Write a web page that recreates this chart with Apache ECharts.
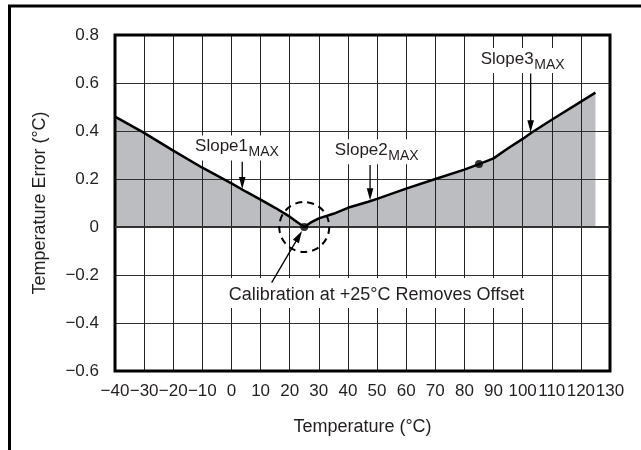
<!DOCTYPE html>
<html><head><meta charset="utf-8">
<script src="https://cdn.jsdelivr.net/npm/echarts@6/dist/echarts.min.js"></script>
<style>html,body{margin:0;padding:0;background:#fff}#c{width:641px;height:450px}</style>
</head><body><div id="c"></div>
<script>
// ---- data ----
const temperature = [-40, -30, -20, -10, 0, 5, 10, 15, 20, 22.5, 25, 27, 30, 35, 40, 47, 50, 60, 70, 80, 85, 90, 95, 100, 103, 110, 125];
const tempError   = [0.46, 0.392, 0.318, 0.247, 0.182, 0.147, 0.114, 0.08, 0.043, 0.021, 0, 0.017, 0.036, 0.055, 0.08, 0.105, 0.117, 0.16, 0.2, 0.239, 0.262, 0.286, 0.328, 0.367, 0.393, 0.447, 0.56];
const markedTemps  = [25, 85];
const markedErrors = [0, 0.262];
const xTickMin = -40, xTickMax = 130, xTickStep = 10;
const yTickMin = -0.6, yTickMax = 0.8, yTickStep = 0.2;
const xTitle = 'Temperature (°C)';
const yTitle = 'Temperature Error (°C)';
// annotations (data coordinates)
const slopeLabels = [
  {main: 'Slope1', sub: 'MAX', at: [-12.5, 0.335], arrowFrom: [3.7, 0.272], arrowTo: [3.7, 0.158]},
  {main: 'Slope2', sub: 'MAX', at: [35.5, 0.32], arrowFrom: [47.6, 0.258], arrowTo: [47.6, 0.111]},
  {main: 'Slope3', sub: 'MAX', at: [85.6, 0.70], arrowFrom: [102.75, 0.64], arrowTo: [102.75, 0.395]}
];
const calibText = 'Calibration at +25°C Removes Offset';
const calibTextAt = [49.8, -0.283];
const calibArrowFrom = [13.8, -0.232];
const calibArrowTo = [24.2, -0.017];
const calibCircleAt = [25, 0];

const pairs = temperature.map((t, i) => [t, tempError[i]]);
const dots = markedTemps.map((t, i) => [t, markedErrors[i]]);
const FONT = 'Liberation Sans, Arial, Helvetica, sans-serif';
const TXT = '#231f20';
const minus = s => s.replace('-', '\u2212');

const chart = echarts.init(document.getElementById('c'), null, {renderer: 'canvas'});
chart.setOption({
  animation: false,
  grid: {left: 115, top: 35, right: 31, bottom: 79, show: true, borderColor: '#000', borderWidth: 3, backgroundColor: 'transparent', z: 4},
  xAxis: {
    type: 'value', min: xTickMin, max: xTickMax, interval: xTickStep, z: 3,
    axisLine: {show: false}, axisTick: {show: false},
    axisLabel: {margin: 12, fontSize: 17, color: TXT, fontFamily: FONT, formatter: v => minus(String(Math.round(v)))},
    splitLine: {show: true, lineStyle: {color: '#222', width: 1}},
    name: xTitle, nameLocation: 'middle', nameGap: 47,
    nameTextStyle: {fontSize: 18, color: TXT, fontFamily: FONT}
  },
  yAxis: {
    type: 'value', min: yTickMin, max: yTickMax, interval: yTickStep, z: 3,
    axisLine: {show: false}, axisTick: {show: false},
    axisLabel: {margin: 16, fontSize: 17, color: TXT, fontFamily: FONT, formatter: v => minus(String(Math.round(v * 10) / 10))},
    splitLine: {show: true, lineStyle: {color: '#333', width: 1}},
    name: yTitle, nameLocation: 'middle', nameGap: 66,
    nameTextStyle: {fontSize: 18, color: TXT, fontFamily: FONT}
  },
  series: [
    {type: 'line', data: pairs, symbol: 'none', silent: true, z: 1,
     lineStyle: {opacity: 0}, areaStyle: {color: '#bcbdc0', opacity: 1}},
    {type: 'line', data: pairs, symbol: 'none', silent: true, z: 5,
     lineStyle: {color: '#000', width: 2.5},
     markLine: {silent: true, symbol: 'none', label: {show: false}, animation: false,
       lineStyle: {color: '#333', width: 2, type: 'solid'}, data: [{yAxis: 0}]}},
    {type: 'scatter', data: dots, symbolSize: 8, itemStyle: {color: '#000'}, z: 6, silent: true}
  ]
});

const px = p => chart.convertToPixel({gridIndex: 0}, p);
function arrow(a, b, head, half) {
  const p0 = px(a), p1 = px(b);
  const dx = p1[0] - p0[0], dy = p1[1] - p0[1], L = Math.hypot(dx, dy);
  const ux = dx / L, uy = dy / L;
  const bx = p1[0] - ux * head, by = p1[1] - uy * head;
  return [
    {type: 'line', z: 12, silent: true, shape: {x1: p0[0], y1: p0[1], x2: bx + ux, y2: by + uy}, style: {stroke: '#000', lineWidth: 1.3}},
    {type: 'polygon', z: 12, silent: true, shape: {points: [[p1[0], p1[1]], [bx - uy * half, by + ux * half], [bx + uy * half, by - ux * half]]}, style: {fill: '#000'}}
  ];
}
const g = [];
// outer frame
g.push({type: 'rect', z: 20, silent: true, shape: {x: 9.5, y: 6, width: 800, height: 600}, style: {fill: 'none', stroke: '#000', lineWidth: 3}});
slopeLabels.forEach(s => {
  const p = px(s.at);
  g.push({type: 'rect', z: 4, silent: true, shape: {x: p[0] - 3, y: p[1] - 11, width: 94, height: 25}, style: {fill: '#fff'}});
  g.push({type: 'text', z: 11, silent: true, x: p[0], y: p[1], style: {text: s.main, fontSize: 17, fontFamily: FONT, fill: TXT, align: 'left', verticalAlign: 'middle'}});
  g.push({type: 'text', z: 11, silent: true, x: p[0] + 53.5, y: p[1] + 6, style: {text: s.sub, fontSize: 14, fontFamily: FONT, fill: TXT, align: 'left', verticalAlign: 'middle'}});
  arrow(s.arrowFrom, s.arrowTo, 12, 3.3).forEach(e => g.push(e));
});
const cp = px(calibTextAt);
g.push({type: 'rect', z: 4, silent: true, shape: {x: cp[0] - 158, y: cp[1] - 17, width: 316, height: 30}, style: {fill: '#fff'}});
g.push({type: 'text', z: 11, silent: true, x: cp[0], y: cp[1], style: {text: calibText, fontSize: 18, fontFamily: FONT, fill: TXT, align: 'center', verticalAlign: 'middle'}});
arrow(calibArrowFrom, calibArrowTo, 12, 3.5).forEach(e => g.push(e));
const cc = px(calibCircleAt);
g.push({type: 'circle', z: 12, silent: true, shape: {cx: cc[0], cy: cc[1], r: 25}, style: {fill: 'none', stroke: '#000', lineWidth: 2, lineDash: [7, 5]}});
chart.setOption({graphic: g});
</script>
</body></html>
